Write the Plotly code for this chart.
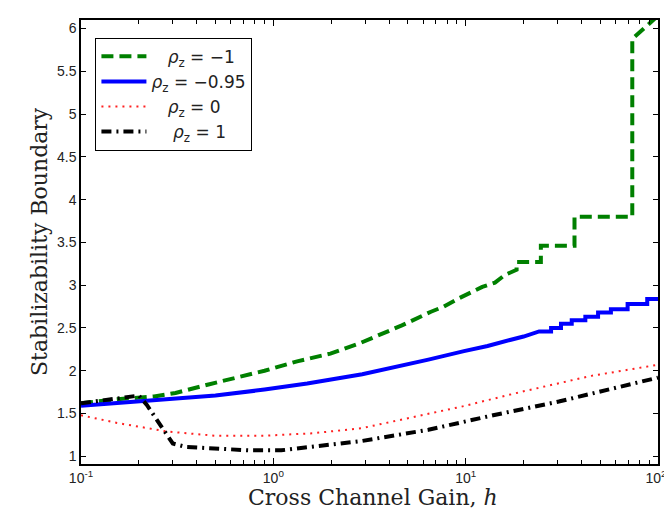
import plotly.graph_objects as go

# ---- data ----
green_x = [0.1, 0.16, 0.24, 0.31, 0.46, 0.61, 0.9, 1.33, 1.98, 2.8, 4.66, 6.6, 7.7, 9.1, 10.3,
           12.2, 14.2, 16.0, 18.4, 18.4, 24.6, 24.6, 36.8, 36.8, 73.5, 73.5, 100]
green_y = [1.62, 1.67, 1.70, 1.74, 1.84, 1.91, 2.00, 2.11, 2.20, 2.32, 2.53, 2.69, 2.75, 2.84, 2.90,
           2.98, 3.03, 3.12, 3.18, 3.27, 3.27, 3.46, 3.46, 3.80, 3.80, 5.88, 6.15]

blue_x = [0.1, 0.28, 0.5, 0.9, 1.5, 2.9, 4.5, 6.4, 9.8, 13, 17, 20, 24.1,
          27.8, 27.8, 31.3, 31.3, 35.6, 35.6, 41.9, 41.9, 48.8, 48.8, 56.9, 56.9,
          69.5, 69.5, 87.9, 87.9, 100]
blue_y = [1.59, 1.66, 1.71, 1.78, 1.85, 1.96, 2.05, 2.13, 2.23, 2.29, 2.36, 2.40, 2.46,
          2.46, 2.50, 2.50, 2.55, 2.55, 2.59, 2.59, 2.63, 2.63, 2.68, 2.68, 2.72,
          2.72, 2.78, 2.78, 2.84, 2.84]

red_x = [0.1, 0.154, 0.28, 0.5, 0.9, 1.62, 2.9, 4.28, 9.5, 20, 45, 100]
red_y = [1.48, 1.39, 1.29, 1.24, 1.24, 1.27, 1.33, 1.41, 1.58, 1.76, 1.94, 2.07]

black_x = [0.1, 0.14, 0.2, 0.22, 0.256, 0.3, 0.35, 0.41, 0.74, 1.1, 1.98, 2.9, 6.4, 13.9, 30.5, 67, 100]
black_y = [1.62, 1.66, 1.71, 1.60, 1.38, 1.15, 1.11, 1.10, 1.07, 1.07, 1.13, 1.18, 1.31, 1.48, 1.64, 1.82, 1.92]

names = ["\u00a0\u00a0\u00a0<i>ρ</i><sub>z</sub> = −1",
         "<i>ρ</i><sub>z</sub> = −0.95",
         "\u00a0\u00a0\u00a0<i>ρ</i><sub>z</sub> = 0",
         "\u00a0\u00a0\u00a0\u00a0<i>ρ</i><sub>z</sub> = 1"]

x_tickvals = [0.1, 1, 10, 100]
x_ticktext = ["10<sup>-1</sup>", "10<sup>0</sup>", "10<sup>1</sup>", "10<sup>2</sup>\u00a0"]
x_minor = [m * d for d in (0.1, 1, 10) for m in range(2, 10)]

x_title = "Cross Channel Gain, <i>h</i>"
y_title = "Stabilizability Boundary"

SERIF = "DejaVu Serif, Liberation Serif, serif"
SANS = "Liberation Sans, Arial, sans-serif"

fig = go.Figure()
fig.add_trace(go.Scatter(x=green_x, y=green_y, mode="lines", name=names[0],
                         line=dict(color="#008000", width=4, dash="12px,6px")))
fig.add_trace(go.Scatter(x=blue_x, y=blue_y, mode="lines", name=names[1],
                         line=dict(color="#0000ff", width=4)))
fig.add_trace(go.Scatter(x=red_x, y=red_y, mode="lines", name=names[2],
                         line=dict(color="#ff2020", width=2, dash="2px,5px")))
fig.add_trace(go.Scatter(x=black_x, y=black_y, mode="lines", name=names[3],
                         line=dict(color="#000000", width=4, dash="10px,5px,2px,5px")))

axis_common = dict(showline=True, linecolor="black", linewidth=1.5, mirror="allticks",
                   ticks="inside", tickcolor="black", showgrid=False, zeroline=False,
                   tickfont=dict(family=SANS, size=14, color="#222"))

fig.update_xaxes(type="log", range=[-1, 2], tickmode="array", tickvals=x_tickvals,
                 ticktext=x_ticktext, ticklen=6, ticklabeloverflow="allow",
                 minor=dict(tickmode="array", tickvals=x_minor, ticks="inside", ticklen=4,
                            tickcolor="black", showgrid=False),
                 **axis_common)
fig.update_yaxes(range=[0.91, 6.1], dtick=0.5, tick0=1, ticklen=5, **axis_common)

fig.add_annotation(text=x_title, xref="paper", yref="paper", x=0.506, y=-0.076,
                   xanchor="center", yanchor="middle", showarrow=False,
                   font=dict(family=SERIF, size=22, color="#222"))
fig.add_annotation(text=y_title, xref="paper", yref="paper", x=-0.073, y=0.502,
                   xanchor="center", yanchor="middle", showarrow=False, textangle=-90,
                   font=dict(family=SERIF, size=22, color="#222"))

fig.update_layout(
    width=672, height=512,
    margin=dict(l=73, r=12, t=10, b=56),
    plot_bgcolor="white", paper_bgcolor="white",
    legend=dict(x=0.025, y=0.96, xanchor="left", yanchor="top",
                bgcolor="white", bordercolor="black", borderwidth=1,
                font=dict(family="DejaVu Sans, sans-serif", size=17, color="#222"),
                itemwidth=45, tracegroupgap=0),
    showlegend=True,
)

fig.write_html("out.html")
